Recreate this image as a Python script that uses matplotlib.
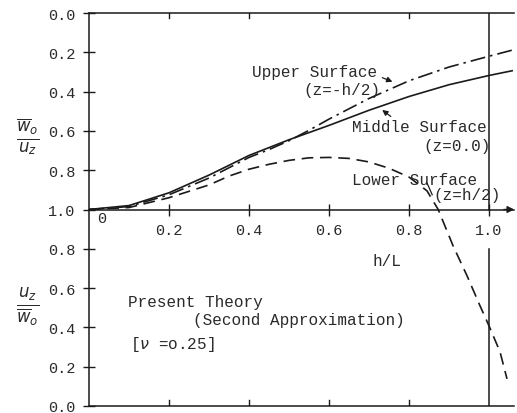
import numpy as np
import matplotlib
matplotlib.use("Agg")
import matplotlib.pyplot as plt
from matplotlib.ticker import FuncFormatter

# ---- data ----
# Upper panel: w_o/u_z (scale inverted, 0.0 at top, 1.0 at middle axis)
h_upper = [0.0, 0.1, 0.2, 0.3, 0.4, 0.45, 0.5, 0.55, 0.6, 0.7, 0.8, 0.9, 1.0, 1.06]
upper_surface = [1.0, 0.985, 0.925, 0.84, 0.735, 0.695, 0.65, 0.597, 0.54, 0.435,
                 0.345, 0.275, 0.22, 0.188]

h_middle = [0.0, 0.1, 0.2, 0.3, 0.4, 0.5, 0.6, 0.7, 0.8, 0.9, 1.0, 1.06]
middle_surface = [1.0, 0.98, 0.915, 0.825, 0.725, 0.645, 0.572, 0.495, 0.425,
                  0.365, 0.318, 0.293]

h_lower_top = [0.0, 0.1, 0.2, 0.3, 0.35, 0.4, 0.45, 0.5, 0.55, 0.6, 0.65, 0.7,
               0.75, 0.8, 0.845, 0.873]
lower_surface_top = [1.0, 0.99, 0.94, 0.875, 0.83, 0.795, 0.77, 0.75, 0.737,
                     0.735, 0.74, 0.758, 0.79, 0.835, 0.905, 1.0]

# Lower panel: u_z/w_o (continuation of lower surface curve)
h_lower_bot = [0.873, 0.91, 0.945, 0.9775, 1.0, 1.0275, 1.045]
lower_surface_bot = [1.0, 0.816, 0.663, 0.51, 0.408, 0.276, 0.138]

x_ticks = [0.2, 0.4, 0.6, 0.8, 1.0]
x_tick_labels = ["0.2", "0.4", "0.6", "0.8", "1.0"]

# ---- figure ----
mono = "Liberation Mono"
ink = "#1a1a1a"
txt = "#2a2a2a"

fig = plt.figure(figsize=(5.17, 4.14), dpi=100)
ax = fig.add_axes([89 / 517, 7 / 414, (514 - 89) / 517, (407 - 14) / 414])
ax.set_xlim(0, 1.0625)
ax.set_ylim(0, 2)


def top_y(v):
    return 2 - np.asarray(v)


ax.plot(h_middle, top_y(middle_surface), color=ink, lw=1.2, solid_capstyle="butt")
ax.plot(h_upper, top_y(upper_surface), color=ink, lw=1.2,
        dashes=(9, 3, 1.5, 3))
lx = list(h_lower_top) + list(h_lower_bot[1:])
ly = list(top_y(lower_surface_top)) + list(lower_surface_bot[1:])
ax.plot(lx, ly, color=ink, lw=1.2, dashes=(7, 4))

# spines / axes lines
ax.spines["right"].set_visible(False)
ax.spines["bottom"].set_position(("data", 1))
for s in ["left", "top", "bottom"]:
    ax.spines[s].set_color(ink)
    ax.spines[s].set_linewidth(1.1)
ax.axhline(0, color=ink, lw=1.1, clip_on=False)

# arrow at end of middle axis
ax.annotate("", xy=(1.07, 1), xytext=(1.03, 1), xycoords="data",
            arrowprops=dict(arrowstyle="-|>", color=ink, lw=1.0,
                            mutation_scale=10), annotation_clip=False)

# vertical line at h/L = 1.0
ax.plot([1.0, 1.0], [2, 1], color=ink, lw=1.1)
ax.plot([1.0, 1.0], [0.80, 0], color=ink, lw=1.1)

# tick marks on top and bottom lines
for xt in x_ticks[:-1]:
    ax.plot([xt, xt], [2, 1.975], color=ink, lw=1.0)
    ax.plot([xt, xt], [0, 0.03], color=ink, lw=1.0)

# y ticks
ax.set_yticks(np.round(np.arange(0, 2.001, 0.2), 1))
ax.yaxis.set_major_formatter(FuncFormatter(
    lambda y, p: f"{(y if y <= 1.0001 else 2 - y):.1f}"))
ax.tick_params(axis="y", direction="inout", length=8, width=1.0,
               color=ink, pad=6, labelsize=11, labelcolor=txt)
ax.set_xticks(x_ticks)
ax.set_xticklabels(x_tick_labels)
ax.tick_params(axis="x", direction="inout", length=8, width=1.0,
               color=ink, pad=6, labelsize=11, labelcolor=txt)
for lab in ax.get_xticklabels() + ax.get_yticklabels():
    lab.set_fontfamily(mono)

ax.text(0.02, 0.955, "0", fontfamily=mono, fontsize=11, color=txt,
        ha="left", va="center")

# y labels (fractions)
fig.text(28 / 517, 1 - 137 / 414, r"$\frac{\overline{w}_o}{u_z}$",
         fontsize=17, ha="center", va="center", color=txt)
fig.text(28 / 517, 1 - 307 / 414, r"$\frac{u_z}{\overline{w}_o}$",
         fontsize=17, ha="center", va="center", color=txt)

fs = 11.5
kw = dict(fontfamily=mono, fontsize=fs, color=txt, va="center", ha="left")
ax.text(0.4075, 1.70, "Upper Surface", **kw)
ax.text(0.535, 1.613, "(z=-h/2)", **kw)
ax.text(0.6575, 1.42, "Middle Surface", **kw)
ax.text(0.835, 1.328, "(z=0.0)", **kw)
ax.text(0.6575, 1.155, "Lower Surface", **kw)
ax.text(0.86, 1.074, "(z=h/2)", **kw)
ax.text(0.7075, 0.74, "h/L", **kw)
ax.text(0.0975, 0.531, "Present Theory", **kw)
ax.text(0.26, 0.44, "(Second Approximation)", **kw)
ax.text(0.1025, 0.316, r"[$\nu$ =o.25]", **kw)

# annotation arrows
ax.annotate("", xy=(0.765, 1.645), xytext=(0.727, 1.676),
            arrowprops=dict(arrowstyle="-|>", color=ink, lw=0.9,
                            mutation_scale=8))
ax.annotate("", xy=(0.7275, 1.515), xytext=(0.76, 1.465),
            arrowprops=dict(arrowstyle="-|>", color=ink, lw=0.9,
                            mutation_scale=8))
ax.plot([0.845, 0.858], [1.135, 1.075], color=ink, lw=0.9)

fig.savefig("out.png", dpi=100)
